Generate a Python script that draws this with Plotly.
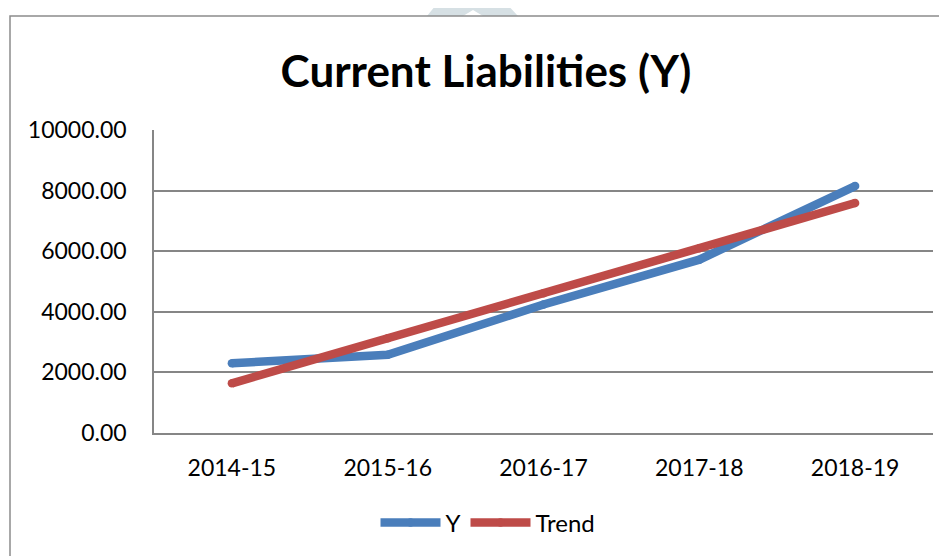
import plotly.graph_objects as go

categories = ["2014-15", "2015-16", "2016-17", "2017-18", "2018-19"]
y_values = [2300, 2580, 4240, 5720, 8150]
trend_values = [1640, 3130, 4610, 6100, 7590]
y_ticks = [0, 2000, 4000, 6000, 8000, 10000]
y_tick_labels = ["0.00", "2000.00", "4000.00", "6000.00", "8000.00", "10000.00"]

# page body has an 8px margin; work in screen coordinates and shift
OFF = 8
W, H = 947 - OFF, 556 - OFF
PL, PR, PT, PB = 154, 933, 130, 433  # plot area in screen px
L, T = PL - OFF, PT - OFF
R = W - (PR - OFF)
B = H - (PB - OFF)
PW, PH = PR - PL, PB - PT


def px(x):
    return (x - PL) / PW


def py(y):
    return (PB - y) / PH


fig = go.Figure()
fig.add_trace(go.Scatter(
    x=categories, y=y_values, name="Y", mode="lines+markers",
    line=dict(color="#4A7EBB", width=8.5),
    marker=dict(color="#4A7EBB", size=8.5, line=dict(width=0)),
))
fig.add_trace(go.Scatter(
    x=categories, y=trend_values, name="Trend", mode="lines+markers",
    line=dict(color="#BE4B48", width=8.5),
    marker=dict(color="#BE4B48", size=8.5, line=dict(width=0)),
))

font_family = "Lato, 'Liberation Sans', sans-serif"

fig.update_layout(
    width=W, height=H,
    margin=dict(l=L, r=R, t=T, b=B, autoexpand=False),
    paper_bgcolor="white", plot_bgcolor="white",
    font=dict(family=font_family, size=22, color="black"),
    title=dict(
        text="<b>Current Liabilities (Y)</b>",
        font=dict(family=font_family, size=44, color="black"),
        x=(486 - OFF) / W, xref="container", xanchor="center",
        y=1 - (72 - OFF) / H, yref="container", yanchor="middle",
    ),
    showlegend=True,
    legend=dict(
        orientation="h", x=px(488), xanchor="center",
        y=py(523), yanchor="middle",
        font=dict(family=font_family, size=24, color="black"),
        itemwidth=60, bgcolor="rgba(0,0,0,0)",
        tracegroupgap=0,
    ),
    xaxis=dict(
        type="category", range=[-0.5, len(categories) - 0.5],
        showgrid=False, showline=True, linecolor="#868686",
        linewidth=1.5, ticks="", ticklabelstandoff=14,
        tickfont=dict(family=font_family, size=23, color="black"),
    ),
    yaxis=dict(
        range=[0, 10000], tickvals=y_ticks, ticktext=y_tick_labels,
        showgrid=True, gridcolor="#868686", gridwidth=1.5,
        showline=True, linecolor="#868686", linewidth=1.5,
        zeroline=False, ticks="", ticklabelstandoff=21,
        tickfont=dict(family=font_family, size=23, color="black"),
    ),
    shapes=[
        dict(type="path", xref="paper", yref="paper", layer="below",
             path="M {},{} L {},{} L {},{} L {},{} L {},{} L {},{} L {},{} Z".format(
                 *[v for p in [(427, 16), (440, 0), (503, 0), (518, 16), (483, 16), (473, 10), (463, 16)]
                   for v in (px(p[0]), py(p[1]))]),
             fillcolor="#D6E0E4", line=dict(width=0)),
        dict(type="rect", xref="paper", yref="paper", layer="below",
             x0=px(10), x1=px(980), y0=py(600), y1=py(16),
             line=dict(color="#8C8C8C", width=1.5), fillcolor="rgba(0,0,0,0)"),
    ],
)

fig.write_html("out.html")
